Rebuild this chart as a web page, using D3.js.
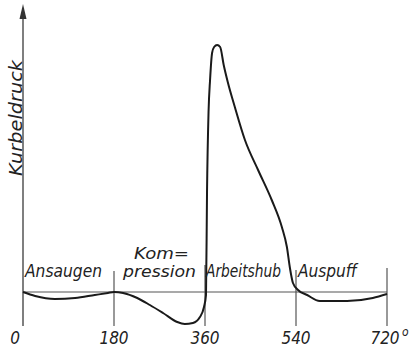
<!DOCTYPE html>
<html><head><meta charset="utf-8">
<script src="https://cdn.jsdelivr.net/npm/d3@7"></script>
<style>
html,body{margin:0;padding:0;background:#fff;}
svg{display:block;}
text{font-family:"DejaVu Sans Condensed","Liberation Sans Narrow","Liberation Sans",sans-serif;font-style:italic;fill:#222;}
</style></head>
<body>
<script>
// Crank angle (degrees) and crank pressure (arbitrary units, 0 = baseline)
const angles = [0,24,63,103,142,168,180,198,226,251,277,305,320,336,350,358,362,364,367,370,374,378,384,390,397,405,419,439,465,492,512,522,528,534,544,562,587,641,692,720];
const pressure = [0,-4,-7,-6,-3,-1,0,-1,-6,-13,-21,-30,-32,-31,-25,-15,-3,100,180,212,239,245,247,245,227,210,185,152,122,92,65,45,24,9,2,-3,-9,-9,-6,-2];
const tickValues = [0,180,360,540,720];
const tickLabels = ["0","180","360","540","720"];
const phases = ["Ansaugen","pression","Arbeitshub","Auspuff"];
const phaseStart = [0,180,360,540];
const yTitle = "Kurbeldruck";

const W=411,H=350;
const svg=d3.select("body").append("svg").attr("width",W).attr("height",H);
const x=d3.scaleLinear().domain([0,720]).range([23,387]);
const y=d3.scaleLinear().domain([-40,260]).range([332,32]);

const axisColor="#555";
// baseline
svg.append("line").attr("x1",x(0)).attr("x2",x(720)).attr("y1",y(0)).attr("y2",y(0))
  .attr("stroke",axisColor).attr("stroke-width",1.2);
// vertical y axis
svg.append("line").attr("x1",x(0)).attr("x2",x(0)).attr("y1",16).attr("y2",y(-34))
  .attr("stroke",axisColor).attr("stroke-width",1.5);
svg.append("path").attr("d",`M${x(0)},4 L${x(0)-3.5},19 L${x(0)+3.5},19 Z`).attr("fill","#333");

// phase boundary lines
const tickTop=[null,21,27,22,24];
svg.selectAll("line.tk").data(tickValues.slice(1)).enter().append("line")
  .attr("x1",d=>x(d)).attr("x2",d=>x(d))
  .attr("y1",(d,i)=>y(tickTop[i+1]))
  .attr("y2",y(-34))
  .attr("stroke",axisColor).attr("stroke-width",1.2);

// curve
const line=d3.line().x((d,i)=>x(angles[i])).y(d=>y(d)).curve(d3.curveMonotoneX);
svg.append("path").datum(pressure).attr("d",line).attr("fill","none")
  .attr("stroke","#1a1a1a").attr("stroke-width",2).attr("stroke-linejoin","round");

// tick labels
svg.selectAll("text.tl").data(tickValues).enter().append("text")
  .attr("x",(d,i)=>x(d)+(i===0?-8:(i===4?-2:0)))
  .attr("y",344).attr("text-anchor","middle").attr("font-size",17)
  .text((d,i)=>tickLabels[i]);
svg.append("text").attr("x",x(720)+15).attr("y",336).attr("font-size",12).text("o");

// phase labels
const phaseDx=[2,9,1,2];
const phaseW=[77,73,75,59];
svg.selectAll("text.ph").data(phases).enter().append("text")
  .attr("x",(d,i)=>x(phaseStart[i])+phaseDx[i])
  .attr("y",277).attr("font-size",(d,i)=>i===1?16:17)
  .attr("textLength",(d,i)=>phaseW[i]).attr("lengthAdjust","spacingAndGlyphs")
  .text(d=>d);
svg.append("text").attr("x",x(180)+20).attr("y",259).attr("font-size",16)
  .attr("textLength",55).attr("lengthAdjust","spacingAndGlyphs").text("Kom=");

// y title
svg.append("text").attr("transform",`translate(22,118) rotate(-90)`)
  .attr("text-anchor","middle").attr("font-size",17)
  .attr("textLength",116).attr("lengthAdjust","spacingAndGlyphs").text(yTitle);
</script>
</body></html>
